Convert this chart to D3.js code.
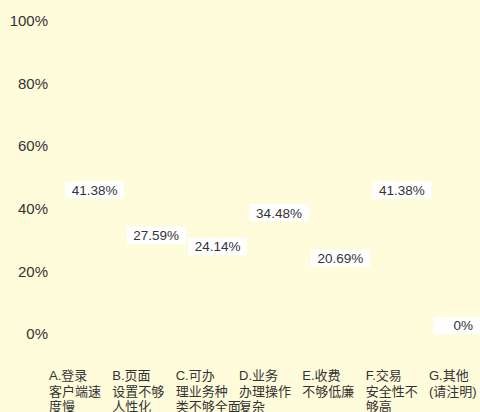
<!DOCTYPE html>
<html>
<head>
<meta charset="utf-8">
<script src="https://cdn.jsdelivr.net/npm/d3@7"></script>
<style>
  body { margin: 0; background: #fffcdb; }
  text { font-family: "Liberation Sans", "Noto Sans CJK SC", sans-serif; fill: #333; }
</style>
</head>
<body>
<div id="chart"></div>
<script>
const categories = ["A", "B", "C", "D", "E", "F", "G"];
const categoryLines = [
    ["A.登录", "客户端速", "度慢"],
    ["B.页面", "设置不够", "人性化"],
    ["C.可办", "理业务种", "类不够全面"],
    ["D.业务", "办理操作", "复杂"],
    ["E.收费", "不够低廉"],
    ["F.交易", "安全性不", "够高"],
    ["G.其他", "(请注明)"]
];
const values = [41.38, 27.59, 24.14, 34.48, 20.69, 41.38, 0];
const yTicks = [0, 20, 40, 60, 80, 100];

const width = 480, height = 412;

const svg = d3.select("#chart")
    .append("svg")
    .attr("width", width)
    .attr("height", height);

svg.append("rect")
    .attr("width", width)
    .attr("height", height)
    .attr("fill", "#fffcdb");

const x = d3.scaleBand()
    .domain(categories)
    .range([64, 494]);

const xLabel = d3.scalePoint()
    .domain(categories)
    .range([49, 429]);

const y = d3.scaleLinear()
    .domain([0, 100])
    .range([334, 21]);

// value labels sit on a slightly different scale in the original
const yLabel = d3.scaleLinear()
    .domain([0, 100])
    .range([325.5, -1.5]);

// y axis labels
svg.append("g")
    .selectAll("text")
    .data(yTicks)
    .join("text")
    .attr("x", 48)
    .attr("y", d => y(d))
    .attr("dy", "0.35em")
    .attr("text-anchor", "end")
    .attr("font-size", 15)
    .text(d => d + "%");

// bars (transparent in the original)
svg.append("g")
    .selectAll("rect")
    .data(values)
    .join("rect")
    .attr("x", (d, i) => x(categories[i]) + 8)
    .attr("width", x.bandwidth() - 16)
    .attr("y", d => y(d))
    .attr("height", d => y(0) - y(d))
    .attr("fill", "#fffcdb")
    .attr("fill-opacity", 0);

// value labels with white boxes
const labels = svg.append("g")
    .selectAll("g")
    .data(values)
    .join("g")
    .attr("transform", (d, i) => `translate(${x(categories[i]) + x.bandwidth() / 2},${yLabel(d)})`);

labels.append("rect")
    .attr("x", -29.5)
    .attr("y", -8.5)
    .attr("width", 59)
    .attr("height", 17)
    .attr("fill", "#fff");

labels.append("text")
    .attr("text-anchor", "middle")
    .attr("dy", "0.36em")
    .attr("font-size", 13.5)
    .text(d => d + "%");

// category labels
const cat = svg.append("g")
    .selectAll("text")
    .data(categoryLines)
    .join("text")
    .attr("x", (d, i) => xLabel(categories[i]))
    .attr("y", 380)
    .attr("font-size", 13);

cat.selectAll("tspan")
    .data(d => d)
    .join("tspan")
    .attr("x", function() { return this.parentNode.getAttribute("x"); })
    .attr("dy", (d, i) => i === 0 ? 0 : 15.5)
    .text(d => d);
</script>
</body>
</html>
